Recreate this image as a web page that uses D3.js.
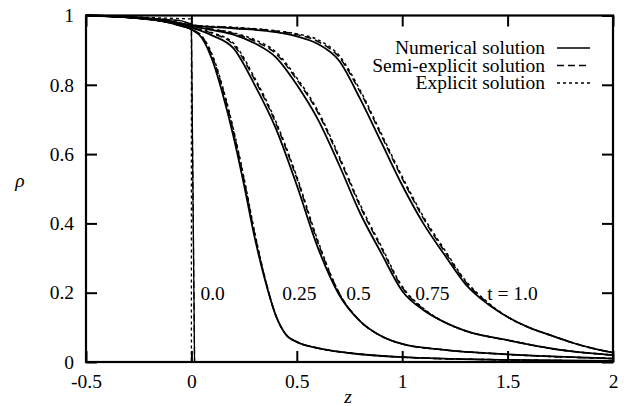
<!DOCTYPE html>
<html>
<head>
<meta charset="utf-8">
<script src="https://cdn.jsdelivr.net/npm/d3@7"></script>
<style>
  body { margin: 0; background: white; }
  text { font-family: "Liberation Serif", "Times New Roman", serif; fill: black; }
</style>
</head>
<body>
<div id="canvas"></div>
<script>
var w = 624;
var h = 406;

// data: [z, rho]
var num0   = [[-0.5, 1], [-0.25, 0.995], [-0.05, 0.985], [0, 0.975], [0.015, 0], [2, 0]];
var num025 = [[-0.5, 1], [-0.3, 0.995], [-0.15, 0.985], [-0.05, 0.97], [0, 0.96], [0.05, 0.935], [0.1, 0.87], [0.15, 0.77], [0.2, 0.65], [0.25, 0.51], [0.3, 0.36], [0.35, 0.235], [0.4, 0.135], [0.45, 0.078], [0.5, 0.058], [0.6, 0.04], [0.75, 0.026], [1.0, 0.014], [1.5, 0.006], [2.0, 0.003]];
var num05  = [[-0.5, 1], [-0.3, 0.995], [-0.1, 0.98], [0, 0.965], [0.1, 0.942], [0.2, 0.905], [0.3, 0.80], [0.4, 0.675], [0.5, 0.51], [0.6, 0.33], [0.7, 0.195], [0.8, 0.118], [0.9, 0.075], [1.0, 0.052], [1.2, 0.035], [1.5, 0.022], [2.0, 0.01]];
var num075 = [[-0.5, 1], [-0.3, 0.995], [-0.1, 0.982], [0, 0.97], [0.1, 0.958], [0.2, 0.945], [0.3, 0.92], [0.4, 0.88], [0.5, 0.80], [0.6, 0.70], [0.7, 0.57], [0.8, 0.43], [0.9, 0.315], [1.0, 0.205], [1.1, 0.15], [1.2, 0.115], [1.3, 0.09], [1.5, 0.063], [1.75, 0.035], [2.0, 0.02]];
var num1   = [[-0.5, 1], [-0.3, 0.995], [-0.1, 0.983], [0, 0.972], [0.2, 0.963], [0.4, 0.952], [0.5, 0.94], [0.6, 0.918], [0.7, 0.87], [0.8, 0.76], [0.9, 0.635], [1.0, 0.51], [1.1, 0.40], [1.2, 0.31], [1.3, 0.225], [1.4, 0.17], [1.5, 0.13], [1.6, 0.1], [1.7, 0.078], [1.8, 0.057], [1.9, 0.04], [2.0, 0.027]];

var semi0   = [[-0.5, 1], [-0.25, 0.995], [-0.05, 0.985], [0, 0.975], [0.015, 0], [2, 0]];
var semi025 = [[-0.5, 1], [-0.3, 0.995], [-0.15, 0.985], [-0.05, 0.97], [0, 0.96], [0.05, 0.94], [0.1, 0.88], [0.15, 0.785], [0.2, 0.665], [0.25, 0.525], [0.3, 0.37], [0.35, 0.24], [0.4, 0.135], [0.45, 0.078], [0.5, 0.058], [0.6, 0.04], [0.75, 0.026], [1.0, 0.014], [1.5, 0.006], [2.0, 0.003]];
var semi05  = [[-0.5, 1], [-0.3, 0.995], [-0.1, 0.98], [0, 0.965], [0.1, 0.948], [0.2, 0.915], [0.3, 0.815], [0.4, 0.69], [0.5, 0.53], [0.6, 0.345], [0.7, 0.2], [0.8, 0.118], [0.9, 0.075], [1.0, 0.052], [1.2, 0.035], [1.5, 0.022], [2.0, 0.01]];
var semi075 = [[-0.5, 1], [-0.3, 0.995], [-0.1, 0.982], [0, 0.97], [0.1, 0.96], [0.2, 0.948], [0.3, 0.926], [0.4, 0.89], [0.5, 0.815], [0.6, 0.72], [0.7, 0.59], [0.8, 0.45], [0.9, 0.33], [1.0, 0.215], [1.1, 0.153], [1.2, 0.115], [1.3, 0.09], [1.5, 0.063], [1.75, 0.035], [2.0, 0.02]];
var semi1   = [[-0.5, 1], [-0.3, 0.995], [-0.1, 0.983], [0, 0.972], [0.2, 0.965], [0.4, 0.955], [0.5, 0.945], [0.6, 0.925], [0.7, 0.88], [0.8, 0.78], [0.9, 0.655], [1.0, 0.53], [1.1, 0.415], [1.2, 0.32], [1.3, 0.232], [1.4, 0.173], [1.5, 0.13], [1.6, 0.1], [1.7, 0.078], [1.8, 0.057], [1.9, 0.04], [2.0, 0.027]];

var expl0   = [[-0.5, 1], [0, 0.99], [0, 0], [2, 0]];
var expl025 = [[-0.5, 1], [-0.3, 0.995], [-0.15, 0.985], [-0.05, 0.97], [0, 0.96], [0.05, 0.94], [0.1, 0.885], [0.15, 0.79], [0.2, 0.67], [0.25, 0.53], [0.3, 0.375], [0.35, 0.24], [0.4, 0.135], [0.45, 0.078], [0.5, 0.058], [0.6, 0.04], [0.75, 0.026], [1.0, 0.014], [1.5, 0.006], [2.0, 0.003]];
var expl05  = [[-0.5, 1], [-0.3, 0.995], [-0.1, 0.98], [0, 0.965], [0.1, 0.95], [0.2, 0.92], [0.3, 0.82], [0.4, 0.695], [0.5, 0.535], [0.6, 0.35], [0.7, 0.2], [0.8, 0.118], [0.9, 0.075], [1.0, 0.052], [1.2, 0.035], [1.5, 0.022], [2.0, 0.01]];
var expl075 = [[-0.5, 1], [-0.3, 0.995], [-0.1, 0.982], [0, 0.97], [0.1, 0.96], [0.2, 0.95], [0.3, 0.93], [0.4, 0.895], [0.5, 0.82], [0.6, 0.725], [0.7, 0.595], [0.8, 0.455], [0.9, 0.335], [1.0, 0.218], [1.1, 0.155], [1.2, 0.115], [1.3, 0.09], [1.5, 0.063], [1.75, 0.035], [2.0, 0.02]];
var expl1   = [[-0.5, 1], [-0.3, 0.995], [-0.1, 0.983], [0, 0.972], [0.2, 0.966], [0.4, 0.956], [0.5, 0.947], [0.6, 0.93], [0.7, 0.885], [0.8, 0.785], [0.9, 0.66], [1.0, 0.535], [1.1, 0.42], [1.2, 0.325], [1.3, 0.235], [1.4, 0.175], [1.5, 0.13], [1.6, 0.1], [1.7, 0.078], [1.8, 0.057], [1.9, 0.04], [2.0, 0.027]];

var times = [0, 0.25, 0.5, 0.75, 1.0];
var numerical = [num0, num025, num05, num075, num1];
var semiExplicit = [semi0, semi025, semi05, semi075, semi1];
var explicit = [expl0, expl025, expl05, expl075, expl1];

var curveLabels = ["0.0", "0.25", "0.5", "0.75", "t = 1.0"];
var labelZ = [0.043, 0.431, 0.735, 1.062, 1.403];

var xTicks = [-0.5, 0, 0.5, 1, 1.5, 2];
var xTickLabels = ["-0.5", "0", "0.5", "1", "1.5", "2"];
var yTicks = [0, 0.2, 0.4, 0.6, 0.8, 1];
var yTickLabels = ["0", "0.2", "0.4", "0.6", "0.8", "1"];

var legendNames = ["Numerical solution", "Semi-explicit solution", "Explicit solution"];


var xScale = d3.scaleLinear()
               .domain([-0.5, 2])
               .range([86, 613]);

var yScale = d3.scaleLinear()
               .domain([0, 1])
               .range([362, 15.5]);

var canvas = d3.select("#canvas")
               .append("svg")
               .attr("width", w)
               .attr("height", h)
               .style("background-color", "white");

var fontSize = 19.5;

// axes, ticks inside on all four sides
var xAxis = d3.axisBottom(xScale).tickValues(xTicks)
              .tickFormat((d, i) => xTickLabels[i]).tickSize(-11).tickPadding(12);
var xAxisTop = d3.axisTop(xScale).tickValues(xTicks).tickFormat("").tickSize(-11);
var yAxis = d3.axisLeft(yScale).tickValues(yTicks)
              .tickFormat((d, i) => yTickLabels[i]).tickSize(-11).tickPadding(12);
var yAxisRight = d3.axisRight(yScale).tickValues(yTicks).tickFormat("").tickSize(-11);

var gx = canvas.append("g").attr("transform", "translate(0, 362)").call(xAxis);
var gxt = canvas.append("g").attr("transform", "translate(0, 15.5)").call(xAxisTop);
var gy = canvas.append("g").attr("transform", "translate(86, 0)").call(yAxis);
var gyr = canvas.append("g").attr("transform", "translate(613, 0)").call(yAxisRight);

[gx, gxt, gy, gyr].forEach(function(g) {
    g.select(".domain").remove();
    g.selectAll(".tick line").attr("stroke", "black").attr("stroke-width", 2);
    g.selectAll(".tick text")
        .style("font-family", "'Liberation Serif', serif")
        .style("font-size", fontSize + "px")
        .attr("fill", "black");
});

// curves
var line = d3.line()
             .x(d => xScale(d[0]))
             .y(d => yScale(d[1]));

var series = [
    {data: explicit, dash: "3,3", width: 1.5},
    {data: semiExplicit, dash: "7,4", width: 1.5},
    {data: numerical, dash: null, width: 1.8}
];

series.forEach(function(s) {
    canvas.append("g")
        .selectAll("path")
        .data(s.data)
        .join("path")
        .attr("d", (d, i) => line.curve(times[i] === 0 ? d3.curveLinear : d3.curveMonotoneX)(d))
        .attr("fill", "none")
        .attr("stroke", "black")
        .attr("stroke-width", (d, i) => times[i] === 0 ? 1.3 : s.width)
        .attr("stroke-dasharray", s.dash);
});

// frame
canvas.append("rect")
    .attr("x", xScale(-0.5))
    .attr("y", yScale(1))
    .attr("width", xScale(2) - xScale(-0.5))
    .attr("height", yScale(0) - yScale(1))
    .attr("fill", "none")
    .attr("stroke", "black")
    .attr("stroke-width", 2.2);

// curve labels
canvas.append("g")
    .selectAll("text")
    .data(curveLabels)
    .join("text")
    .attr("x", (d, i) => xScale(labelZ[i]))
    .attr("y", yScale(0.2))
    .attr("dy", "0.35em")
    .style("font-size", fontSize + "px")
    .text(d => d);

// axis titles
canvas.append("text")
    .attr("x", 348)
    .attr("y", 403)
    .attr("text-anchor", "middle")
    .style("font-size", fontSize + "px")
    .style("font-style", "italic")
    .text("z");

canvas.append("text")
    .attr("x", 20)
    .attr("y", 187)
    .attr("text-anchor", "middle")
    .style("font-size", fontSize + "px")
    .style("font-style", "italic")
    .text("ρ");

// legend
var legendDash = [null, "7,4", "3,3"];
var legend = canvas.append("g")
                   .attr("class", "legend")
                   .attr("transform", "translate(545, 48)");

legend.selectAll("text")
    .data(legendNames)
    .join("text")
    .attr("x", 0)
    .attr("y", (d, i) => i * 17.5)
    .attr("dy", "0.32em")
    .attr("text-anchor", "end")
    .style("font-size", "19.5px")
    .text(d => d);

legend.selectAll("line")
    .data(legendNames)
    .join("line")
    .attr("x1", 12)
    .attr("x2", 45)
    .attr("y1", (d, i) => i * 17.5)
    .attr("y2", (d, i) => i * 17.5)
    .attr("stroke", "black")
    .attr("stroke-width", 1.3)
    .attr("stroke-dasharray", (d, i) => legendDash[i]);
</script>
</body>
</html>
